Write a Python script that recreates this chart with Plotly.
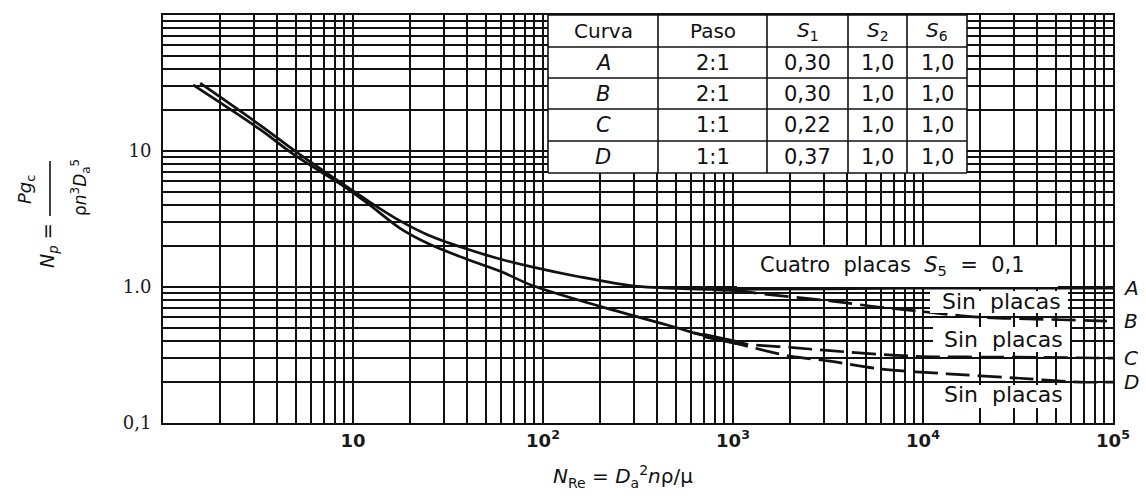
import math
import plotly.graph_objects as go

# ---------------- data ----------------
# common solid curve for A and B (upper)
re_ab = [1.57, 3.24, 5, 8.87, 12, 17.7, 25, 39.8, 60, 88.6, 150, 297, 600, 1000]
np_ab = [31.5, 15.5, 9.9, 5.7, 4.3, 3.06, 2.4, 1.9, 1.6, 1.40, 1.2, 1.02, 0.97, 0.96]
# common solid curve for C and D (lower)
re_cd = [1.44, 3.24, 5, 8.87, 12, 17.7, 25, 39.8, 60, 88.6, 200, 450, 620]
np_cd = [30.6, 14.4, 9.2, 5.55, 4.1, 2.7, 2.08, 1.6, 1.3, 1.02, 0.72, 0.525, 0.46]
# continuation A (four baffles, solid)
re_a = [1000, 3000, 10000, 100000]
np_a = [0.96, 0.97, 0.98, 0.98]
# continuation B (no baffles, dashed)
re_b = [1000, 1180, 3240, 5940, 8900, 19900, 67000, 100000]
np_b = [0.96, 0.92, 0.79, 0.71, 0.67, 0.60, 0.57, 0.56]
# continuation C (dashed)
re_c = [620, 1000, 1180, 2000, 3240, 8900, 29700, 100000]
np_c = [0.46, 0.40, 0.38, 0.36, 0.34, 0.31, 0.305, 0.30]
# continuation D (dashed)
re_d = [620, 1000, 2000, 3240, 5940, 13400, 29700, 67000, 100000]
np_d = [0.46, 0.39, 0.31, 0.285, 0.25, 0.23, 0.215, 0.20, 0.20]
# short heavy transition strokes
re_t_ab = [780, 1070]
np_t_ab = [0.97, 0.96]
re_t_cd = [700, 1050]
np_t_cd = [0.44, 0.39]

curve_labels = ["A", "B", "C", "D"]
curve_end_np = [np_a[-1], np_b[-1], np_c[-1], np_d[-1]]

table_header = ["Curva", "Paso", "<i>S</i><sub>1</sub>", "<i>S</i><sub>2</sub>", "<i>S</i><sub>6</sub>"]
table_curva = ["<i>A</i>", "<i>B</i>", "<i>C</i>", "<i>D</i>"]
table_paso = ["2:1", "2:1", "1:1", "1:1"]
table_s1 = ["0,30", "0,30", "0,22", "0,37"]
table_s2 = ["1,0", "1,0", "1,0", "1,0"]
table_s6 = ["1,0", "1,0", "1,0", "1,0"]

x_tick_decades = [1, 10, 100, 1000, 10000, 100000]
x_tick_text = ["", "10", "10<sup>2</sup>", "10<sup>3</sup>", "10<sup>4</sup>", "10<sup>5</sup>"]
y_tick_decades = [0.1, 1, 10, 100]
y_tick_text = ["0,1", "1.0", "10", ""]

# ---------------- layout helpers ----------------
W, H = 1146, 502
L, R, T, B = 163, 1113, 15, 423


def px(x):
    return (x - L) / (R - L)


def py(y):
    return (B - y) / (B - T)


INK = "#111111"
fig = go.Figure()


def add_curve(x, y, dash="solid", width=2.7, smooth=0.9):
    fig.add_trace(go.Scatter(x=x, y=y, mode="lines",
                             line=dict(color=INK, width=width, dash=dash, shape="spline", smoothing=smooth),
                             hoverinfo="skip", showlegend=False))


add_curve(re_ab, np_ab)
add_curve(re_cd, np_cd)
add_curve(re_a, np_a)
add_curve(re_b, np_b, dash="24px,8px")
add_curve(re_c, np_c, dash="24px,8px")
add_curve(re_d, np_d, dash="24px,8px")
add_curve(re_t_ab, np_t_ab, width=5)
add_curve(re_t_cd, np_t_cd, width=5)


# ticks: every 1..9 multiple gets a grid line, only decades get text
def ticks(decades, texts):
    vals, txt = [], []
    for i, d in enumerate(decades):
        vals.append(d)
        txt.append(texts[i])
        if i < len(decades) - 1:
            for m in range(2, 10):
                vals.append(d * m)
                txt.append("")
    return vals, txt


xv, xt = ticks(x_tick_decades, x_tick_text)
yv, yt = ticks(y_tick_decades, y_tick_text)

fig.update_xaxes(type="log", range=[0, 5], tickmode="array", tickvals=xv, ticktext=xt,
                 showgrid=True, gridcolor=INK, gridwidth=1.5, showline=True, mirror=True,
                 linecolor=INK, linewidth=2, ticks="", automargin=False,
                 tickfont=dict(family="DejaVu Sans", size=18, color="#1a1a1a", weight="bold"))
fig.update_yaxes(type="log", range=[-1, 2], tickmode="array", tickvals=yv, ticktext=yt,
                 showgrid=True, gridcolor=INK, gridwidth=1.5, showline=True, mirror=True,
                 linecolor=INK, linewidth=2, ticks="", ticklabelstandoff=6, automargin=False,
                 tickfont=dict(family="DejaVu Serif", size=18, color="#1a1a1a"))

shapes = []
annots = []


def white_box(x0, y0, x1, y1):
    shapes.append(dict(type="rect", xref="paper", yref="paper", x0=px(x0), x1=px(x1),
                       y0=py(y1), y1=py(y0), fillcolor="white", line=dict(width=0), layer="above"))


def hline(x0, x1, y, w=1.6):
    shapes.append(dict(type="line", xref="paper", yref="paper", x0=px(x0), x1=px(x1),
                       y0=py(y), y1=py(y), line=dict(color=INK, width=w), layer="above"))


def vline(x, y0, y1, w=1.6):
    shapes.append(dict(type="line", xref="paper", yref="paper", x0=px(x), x1=px(x),
                       y0=py(y0), y1=py(y1), line=dict(color=INK, width=w), layer="above"))


def text(x, y, s, size=19, family="DejaVu Sans", angle=0, xanchor="center"):
    annots.append(dict(xref="paper", yref="paper", x=px(x), y=py(y), text=s, showarrow=False,
                       xanchor=xanchor, yanchor="middle", textangle=angle,
                       font=dict(family=family, size=size, color=INK)))


# ---- table ----
col_edges = [548, 658, 767, 848, 907, 967]
row_edges = [15, 47, 78, 109, 141, 173]
white_box(col_edges[0], row_edges[0], col_edges[-1], row_edges[-1])
for xe in col_edges:
    vline(xe, row_edges[0], row_edges[-1])
for ye in row_edges:
    hline(col_edges[0], col_edges[-1], ye)

columns = [table_curva, table_paso, table_s1, table_s2, table_s6]
for ci in range(5):
    cx = (col_edges[ci] + col_edges[ci + 1]) / 2
    text(cx, (row_edges[0] + row_edges[1]) / 2, table_header[ci], size=20)
    for ri in range(4):
        cy = (row_edges[ri + 1] + row_edges[ri + 2]) / 2
        text(cx, cy, columns[ci][ri], size=21)

# ---- in-plot labels ----
white_box(737, 247, 1058, 287)
text(892, 266, "Cuatro  placas  <i>S</i><sub>5</sub>  =  0,1", size=21)
white_box(930, 291, 1068, 313)
text(1001, 301, "Sin  placas", size=22)
white_box(933, 327, 1070, 352)
text(1003, 339, "Sin  placas", size=22)
white_box(933, 385, 1070, 408)
text(1003, 394, "Sin  placas", size=22)

# ---- curve end letters ----
for lab, v in zip(curve_labels, curve_end_np):
    annots.append(dict(xref="paper", yref="y", x=px(1131), y=math.log10(v), text="<i>" + lab + "</i>",
                       showarrow=False, xanchor="center", yanchor="middle",
                       font=dict(family="DejaVu Sans", size=20, color=INK)))

# ---- axis titles ----
text(623, 476, "<i>N</i><sub>Re</sub> = <i>D</i><sub>a</sub><sup>2</sup><i>n</i>ρ/μ", size=20)
text(48, 246, "<i>N<sub>p</sub></i> =", size=19, angle=-90)
text(26, 190, "<i>Pg</i><sub>c</sub>", size=18, angle=-90)
text(80, 188, "ρ<i>n</i><sup>3</sup><i>D</i><sub>a</sub><sup>5</sup>", size=17, angle=-90)
shapes.append(dict(type="line", xref="paper", yref="paper", x0=px(50), x1=px(50),
                   y0=py(161), y1=py(216), line=dict(color=INK, width=1.6)))

fig.update_layout(width=W, height=H, margin=dict(l=L, r=W - R, t=T, b=H - B),
                  plot_bgcolor="white", paper_bgcolor="white", showlegend=False,
                  shapes=shapes, annotations=annots)

fig.write_html("out.html", config={"displayModeBar": False},
               post_script="document.body.style.margin='0px';document.body.style.overflow='hidden';")
